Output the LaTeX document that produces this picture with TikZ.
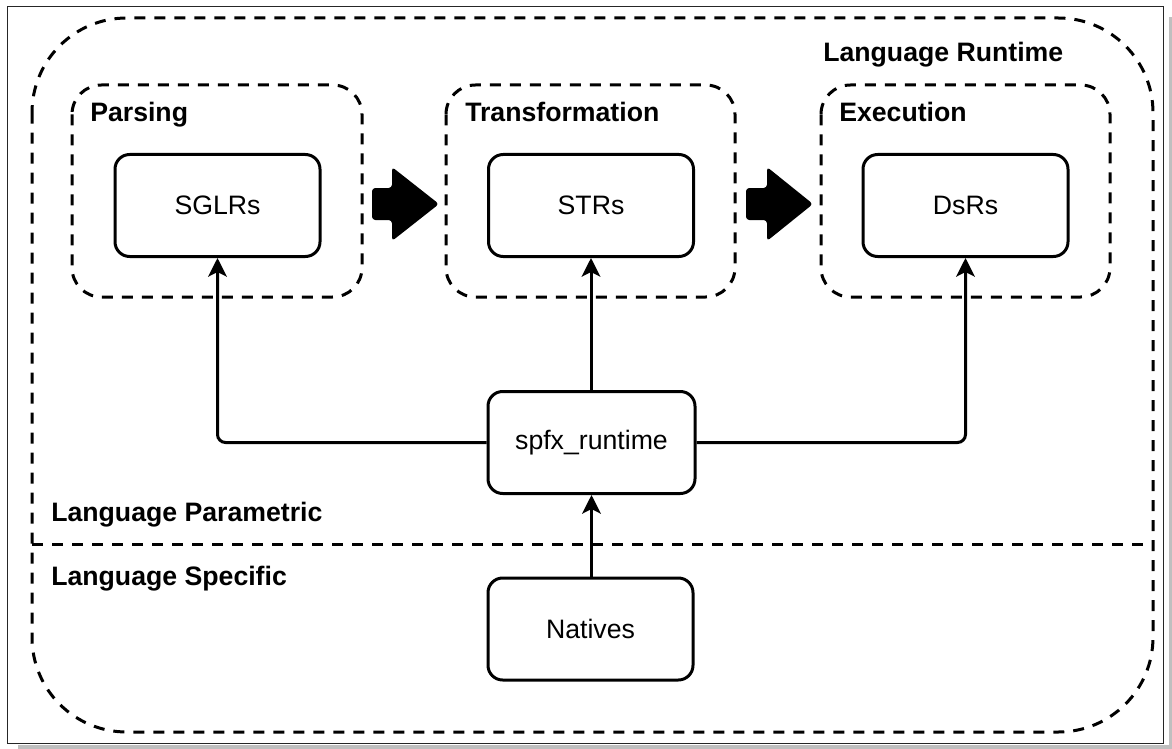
\documentclass[tikz,border=0pt]{standalone}
\usepackage{fontspec}
\setmainfont{Liberation Sans}
\usetikzlibrary{arrows.meta}
\begin{document}
\begin{tikzpicture}[x=0.75pt,y=-0.75pt,
  txt/.style={font=\fontsize{20}{24}\selectfont},
  lbl/.style={font=\fontsize{20}{24}\selectfont\bfseries, inner sep=0pt, anchor=base west},
  box/.style={draw, line width=2.25pt, rounded corners=11pt, inner sep=0pt,
    minimum width=153.75pt, minimum height=76.5pt, txt},
  grp/.style={draw, line width=2.25pt, dash pattern=on 8.25pt off 6.75pt, rounded corners=22pt},
  conn/.style={line width=2.25pt, rounded corners=6pt,
    -{Stealth[length=14pt, width=14pt, inset=3.5pt]}},
  bigarrow/.style={fill=black, rounded corners=2.5pt}]
\useasboundingbox (0,0) rectangle (1172,749);

% page frame with its shadow
\fill[black!25] (1169,17) rectangle (1172,749);
\fill[black!25] (18,745) rectangle (1172,749);
\draw[line width=0.75pt, draw=black!85] (7.5,6.5) rectangle (1163.5,743.5);

% outer runtime boundary and the split between the two layers
\draw[grp, rounded corners=71pt] (32,18) rectangle (1153,732);
\draw[grp, rounded corners=0pt] (32,544) -- (1153,544);

% stage groups
\draw[grp] (72,85) rectangle (362,297);
\draw[grp] (446,85) rectangle (735,297);
\draw[grp] (821,85) rectangle (1110,297);

% labels
\node[lbl] (lruntime) at (823,62) {Language Runtime};
\node[lbl] (lparse) at (90,122) {Parsing};
\node[lbl] (ltrans) at (465,122) {Transformation};
\node[lbl] (lexec) at (839,122) {Execution};
\node[lbl] (lparam) at (51,521) {Language Parametric};
\node[lbl] (lspec) at (51,585) {Language Specific};

% components
\node[box] (sglr) at (217.5,205.5) {SGLRs};
\node[box] (str) at (591,205.5) {STRs};
\node[box] (dsr) at (965.5,205.5) {DsRs};
\node[box, minimum width=155.25pt] (spfx) at (591.5,442.5) {spfx\_runtime};
\node[box] (nat) at (590.5,629) {Natives};

% pipeline arrows between stages
\path[bigarrow] (372,188) -- (392,188) -- (392,167) -- (439,204) -- (392,241) -- (392,220) -- (372,220) -- cycle;
\path[bigarrow] (746,188) -- (767,188) -- (767,167) -- (813,204) -- (767,241) -- (767,220) -- (746,220) -- cycle;

% dependencies
\draw[conn] (spfx.west) -| (sglr.south);
\draw[conn] (spfx.east) -| (dsr.south);
\draw[conn] (spfx.north -| str.south) -- (str.south);
\draw[conn] (nat.north -| spfx.south) -- (spfx.south);
\end{tikzpicture}
\end{document}
